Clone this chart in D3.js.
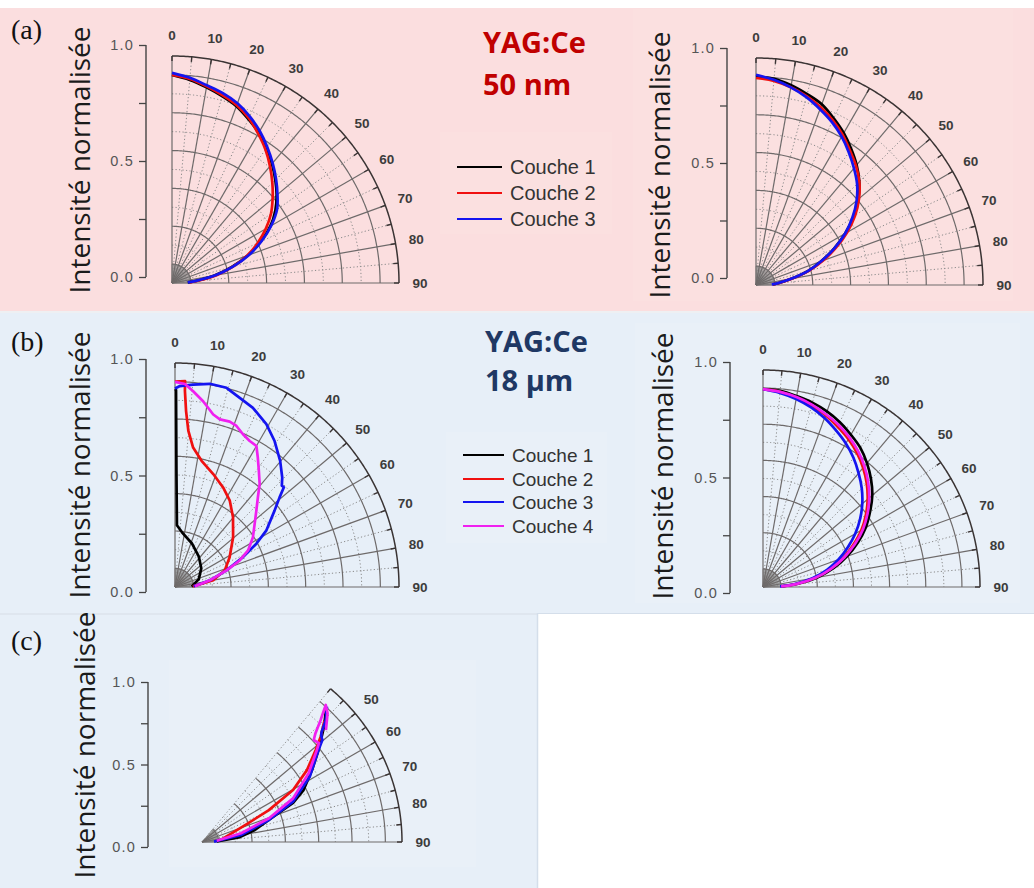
<!DOCTYPE html>
<html><head><meta charset="utf-8">
<script src="https://cdn.jsdelivr.net/npm/d3@7"></script>
<style>body{margin:0;background:#fff;} svg{display:block;}</style>
</head><body>
<svg id="c" width="1034" height="888"></svg>
<script>
// ---------- DATA ----------
const angles = [0,5,10,15,20,25,30,35,40,45,50,55,60,65,70,75,80,85,88];
const seriesNames3 = ["Couche 1","Couche 2","Couche 3"];
const seriesNames4 = ["Couche 1","Couche 2","Couche 3","Couche 4"];
const seriesColors = ["#000000","#f01010","#1414f0","#f020f0"];
const angleLabelsFull = [0,10,20,30,40,50,60,70,80,90];
const angleLabelsC = [50,60,70,80,90];
const yTicks = [0,0.25,0.5,0.75,1.0];
const ringsSolid = [0.09,0.27,0.45,0.63,0.81,0.99];
const ringsDotted = [0.18,0.36,0.54,0.72,0.90];
const ringOuter = 1.08;

// (a) 50 nm, left plot
const aL_c1 = [0.99,0.97,0.945,0.92,0.895,0.86,0.825,0.785,0.74,0.695,0.65,0.6,0.54,0.465,0.385,0.295,0.205,0.115,0.075];
const aL_c2 = [0.99,0.975,0.95,0.925,0.9,0.865,0.82,0.775,0.725,0.675,0.625,0.575,0.515,0.45,0.38,0.30,0.215,0.125,0.085];
const aL_c3 = [1.0,0.98,0.955,0.935,0.91,0.875,0.835,0.79,0.745,0.70,0.655,0.61,0.545,0.47,0.39,0.30,0.21,0.115,0.075];
// (a) right plot
const aR_c1 = [0.99,0.985,0.965,0.94,0.915,0.875,0.835,0.79,0.745,0.695,0.635,0.565,0.49,0.41,0.33,0.255,0.17,0.11,0.08];
const aR_c2 = [0.985,0.975,0.955,0.93,0.9,0.865,0.825,0.78,0.74,0.695,0.64,0.575,0.5,0.42,0.34,0.26,0.175,0.11,0.08];
const aR_c3 = [1.0,0.98,0.955,0.925,0.89,0.855,0.815,0.77,0.725,0.68,0.625,0.56,0.49,0.41,0.33,0.255,0.17,0.105,0.075];
// (b) 18 µm, left plot: [angle, intensity]
const bL_c1 = [[0,0.955],[0.3,0.95],[0.7,0.562],[1.8,0.298],[7.3,0.266],[21,0.226],[37.7,0.187],[54.4,0.156],[71.6,0.121],[85,0.086],[88,0.08]];
const bL_c2 = [[0,0.99],[2.8,0.994],[2.9,0.946],[3.6,0.85],[4.9,0.755],[7.4,0.678],[11.9,0.622],[18.7,0.575],[25.8,0.533],[32.4,0.493],[39.8,0.437],[49.4,0.369],[61.4,0.30],[71.5,0.253],[80,0.187],[88,0.086]];
const bL_c3 = [[0,0.957],[1.4,0.969],[5.1,0.98],[9.7,0.994],[14.5,0.992],[18.9,0.964],[23.5,0.942],[29.3,0.9],[34.3,0.852],[39.8,0.792],[44.4,0.739],[46.5,0.71],[47.5,0.712],[49.4,0.664],[52.5,0.605],[58.3,0.517],[62,0.444],[66.3,0.358],[72.1,0.261],[79.2,0.171],[85.5,0.105],[88,0.09]];
const bL_c4 = [[0,0.989],[2.8,0.98],[5.3,0.948],[8.6,0.906],[12.5,0.852],[15,0.837],[18.3,0.84],[20.9,0.831],[24,0.806],[27.1,0.791],[30,0.785],[32.6,0.741],[35.8,0.691],[39.4,0.643],[42.8,0.588],[46.8,0.538],[51.6,0.49],[57.4,0.446],[63.4,0.394],[67.7,0.337],[72.1,0.261],[79.2,0.171],[88,0.096]];
// (b) right plot
const bR_c1 = [0.985,0.98,0.965,0.95,0.93,0.905,0.875,0.845,0.805,0.76,0.71,0.65,0.59,0.52,0.445,0.365,0.275,0.17,0.09];
const bR_c2 = [0.985,0.975,0.955,0.935,0.91,0.88,0.85,0.815,0.775,0.73,0.68,0.625,0.565,0.495,0.425,0.345,0.26,0.16,0.09];
const bR_c3 = [0.985,0.97,0.95,0.925,0.895,0.86,0.825,0.785,0.74,0.695,0.645,0.59,0.53,0.465,0.4,0.33,0.25,0.155,0.085];
const bR_c4 = [0.985,0.975,0.96,0.94,0.915,0.89,0.86,0.825,0.785,0.74,0.69,0.635,0.575,0.505,0.43,0.35,0.265,0.165,0.09];
// (c) plot: [angle, intensity]
const c_c1 = [[88,0.08],[83,0.2],[77.2,0.293],[71.8,0.38],[66.8,0.535],[62.9,0.616],[56.8,0.71],[51.8,0.80],[46.6,0.907],[43.2,0.978]];
const c_c2 = [[84,0.10],[67.9,0.268],[64.5,0.40],[60.3,0.566],[55.6,0.687],[51,0.79],[48.4,0.857],[45.3,0.93]];
const c_c3 = [[88,0.065],[79.8,0.214],[71.8,0.38],[66.1,0.537],[58.8,0.68],[51.8,0.80],[49.7,0.852],[48.5,0.86],[47.5,0.875],[45.4,0.939],[42.7,0.995]];
const c_c4 = [[85,0.08],[77.4,0.216],[70.5,0.384],[64.4,0.545],[57.2,0.685],[51.3,0.795],[49.8,0.827],[47.6,0.817],[46.2,0.849],[44.2,0.919],[42.1,0.997],[44.3,0.971],[47.9,0.902]];

// ---------- DRAW ----------
const svg = d3.select("#c");
const rad = d => d * Math.PI / 180;
const zipA = arr => arr.map((v, i) => [angles[i], v]);

svg.append("rect").attr("width",1034).attr("height",888).attr("fill","#ffffff");
// panel backgrounds
svg.append("rect").attr("x",0).attr("y",8).attr("width",1034).attr("height",303).attr("fill","#fbdedf");
svg.append("rect").attr("x",0).attr("y",313).attr("width",1034).attr("height",300).attr("fill","#e7eff8");
svg.append("rect").attr("x",0).attr("y",615).attr("width",537).attr("height",273).attr("fill","#e7eff8");
svg.append("line").attr("x1",537.5).attr("x2",537.5).attr("y1",613).attr("y2",888).attr("stroke","#d4deea").attr("stroke-width",1.5);
svg.append("line").attr("x1",0).attr("x2",537).attr("y1",614).attr("y2",614).attr("stroke","#d4deea").attr("stroke-width",1.5);
svg.append("line").attr("x1",537).attr("x2",1034).attr("y1",613.5).attr("y2",613.5).attr("stroke","#d4deea").attr("stroke-width",1);
svg.append("line").attr("x1",0).attr("x2",1034).attr("y1",312).attr("y2",312).attr("stroke","#eef0f3").attr("stroke-width",2);
// subtle lighter image backgrounds
const softRects = [
  [633,9,380,292,"#fbe0e0"],[440,132,172,102,"#fbe0e0"],
  [635,323,385,280,"#e9f0f8"],[446,432,161,111,"#e9f0f8"],
  [169,660,307,207,"#e9f0f8"]
];
softRects.forEach(r => svg.append("rect").attr("x",r[0]).attr("y",r[1]).attr("width",r[2]).attr("height",r[3]).attr("fill",r[4]));

function yAxis(x, yTop, yBot) {
  const y = d3.scaleLinear().domain([0,1]).range([yBot, yTop]);
  const ax = d3.axisLeft(y).tickValues(yTicks).tickSize(7).tickPadding(5)
    .tickFormat(d => (d === 0 || d === 0.5 || d === 1) ? d.toFixed(1) : "");
  const g = svg.append("g").attr("transform", `translate(${x},0)`).call(ax);
  g.select(".domain").attr("stroke","#444").attr("stroke-width",1.4).attr("d", `M0,${yTop}V${yBot}`);
  g.selectAll(".tick line").attr("stroke","#444").attr("stroke-width",1.3);
  g.selectAll(".tick text").attr("fill","#555").attr("font-family","Liberation Sans, Arial, sans-serif")
    .attr("font-size",14.5).attr("letter-spacing","1.2px");
}

function yTitle(x, yc) {
  svg.append("text").attr("transform", `translate(${x},${yc}) rotate(-90)`)
    .attr("text-anchor","middle").attr("font-family","Open Sans, sans-serif")
    .attr("font-size",28).attr("fill","#1a1a1a").text("Intensité normalisée");
}

function polar(cfg) {
  const R = cfg.R;
  const r = d3.scaleLinear().domain([0, ringOuter]).range([0, R]);
  const G = svg.append("g").attr("transform", `translate(${cfg.cx},${cfg.cy})`);
  const lr = d3.lineRadial().angle(d => rad(d[0])).radius(d => d[1]);
  const [a0, a1] = cfg.span;
  const arcPts = v => d3.range(a0, a1 + 0.001, 0.5).map(a => [a, r(v)]);
  ringsDotted.forEach(v => G.append("path").attr("d", lr(arcPts(v))).attr("fill","none")
    .attr("stroke","#8a8a8a").attr("stroke-width",1).attr("stroke-dasharray","1.2,2.3"));
  cfg.dottedSpokes.forEach(a => G.append("path").attr("d", lr([[a,0],[a,R]])).attr("fill","none")
    .attr("stroke","#8a8a8a").attr("stroke-width",1).attr("stroke-dasharray","1.2,2.3"));
  d3.range(a0, a1 + 0.001, 2.5).forEach(a => G.append("path").attr("d", lr([[a,0],[a,r(0.09)]]))
    .attr("stroke","#8a8a8a").attr("stroke-width",0.7).attr("fill","none"));
  ringsSolid.forEach(v => G.append("path").attr("d", lr(arcPts(v))).attr("fill","none")
    .attr("stroke","#6e6a6a").attr("stroke-width",1.2));
  cfg.solidSpokes.forEach(a => G.append("path").attr("d", lr([[a,0],[a,R]])).attr("fill","none")
    .attr("stroke","#6e6a6a").attr("stroke-width",1.2));
  G.append("path").attr("d", lr(arcPts(ringOuter))).attr("fill","none").attr("stroke","#3a3434").attr("stroke-width",1.5);
  d3.range(a0, a1 + 0.001, 5).forEach(a => G.append("path").attr("d", lr([[a,R-5],[a,R]]))
    .attr("stroke","#3a3434").attr("stroke-width",1.4));
  cfg.labels.forEach(a => G.append("text")
    .attr("x", (R + 21) * Math.sin(rad(a))).attr("y", -(R + 21) * Math.cos(rad(a)))
    .attr("text-anchor","middle").attr("dominant-baseline","central")
    .attr("font-family","Liberation Sans, Arial, sans-serif").attr("font-size",13.5).attr("font-weight","bold")
    .attr("fill","#3c3c3c").text(a));
  const curve = d3.lineRadial().angle(d => rad(d[0])).radius(d => r(d[1])).curve(cfg.curve);
  cfg.series.forEach((s, i) => G.append("path").attr("d", curve(s)).attr("fill","none")
    .attr("stroke", seriesColors[i]).attr("stroke-width",2.7).attr("stroke-linejoin","round"));
}

const full = {span:[0,90], labels:angleLabelsFull,
  solidSpokes:[0,10,20,30,40,50,60,70,80,90], dottedSpokes:[5,15,25,35,45,55,65,75,85]};

// (a)
yAxis(146, 45, 277); yTitle(90, 160);
polar(Object.assign({}, full, {cx:172, cy:283, R:227, curve:d3.curveCatmullRom,
  series:[zipA(aL_c1), zipA(aL_c2), zipA(aL_c3)]}));
yAxis(727, 48, 278); yTitle(670, 165);
polar(Object.assign({}, full, {cx:756, cy:285, R:227, curve:d3.curveCatmullRom,
  series:[zipA(aR_c1), zipA(aR_c2), zipA(aR_c3)]}));
// (b)
yAxis(146, 359, 592); yTitle(90, 465);
polar(Object.assign({}, full, {cx:175, cy:587, R:224, curve:d3.curveLinear,
  series:[bL_c1, bL_c2, bL_c3, bL_c4]}));
yAxis(730, 362, 593); yTitle(673, 466);
polar(Object.assign({}, full, {cx:763, cy:587, R:217, curve:d3.curveCatmullRom,
  series:[zipA(bR_c1), zipA(bR_c2), zipA(bR_c3), zipA(bR_c4)]}));
// (c)
yAxis(148, 682, 847); yTitle(95, 745);
polar({cx:202, cy:842, R:200, span:[40,90], labels:angleLabelsC, curve:d3.curveLinear,
  solidSpokes:[50,60,70,80,90], dottedSpokes:[40,45,55,65,75,85],
  series:[c_c1, c_c2, c_c3, c_c4]});

// panel letters
[["(a)",39],["(b)",351],["(c)",650]].forEach(([t,y]) => svg.append("text").attr("x",11).attr("y",y)
  .attr("font-family","Liberation Serif, Times New Roman, serif").attr("font-size",28).attr("fill","#111").text(t));

// sample titles
function title(lines, x, ys, color) {
  lines.forEach((t,i) => svg.append("text").attr("x",x).attr("y",ys[i])
    .attr("font-family","Open Sans, sans-serif").attr("font-weight","bold").attr("font-size",29)
    .attr("fill",color).text(t));
}
title(["YAG:Ce","50 nm"], 483, [53,95], "#c00000");
title(["YAG:Ce","18 µm"], 485, [352,391], "#1f3864");

// legends
function legend(names, x0, x1, tx, ys, fs) {
  names.forEach((n,i) => {
    svg.append("line").attr("x1",x0).attr("x2",x1).attr("y1",ys[i]).attr("y2",ys[i])
      .attr("stroke",seriesColors[i]).attr("stroke-width",2.2);
    svg.append("text").attr("x",tx).attr("y",ys[i]).attr("dominant-baseline","central")
      .attr("font-family","Liberation Sans, Arial, sans-serif").attr("font-size",fs).attr("fill","#333").text(n);
  });
}
legend(seriesNames3, 457, 502, 510, [167,193,219], 20);
legend(seriesNames4, 463, 504, 512, [455,479,502,526], 19);
</script>
</body></html>
